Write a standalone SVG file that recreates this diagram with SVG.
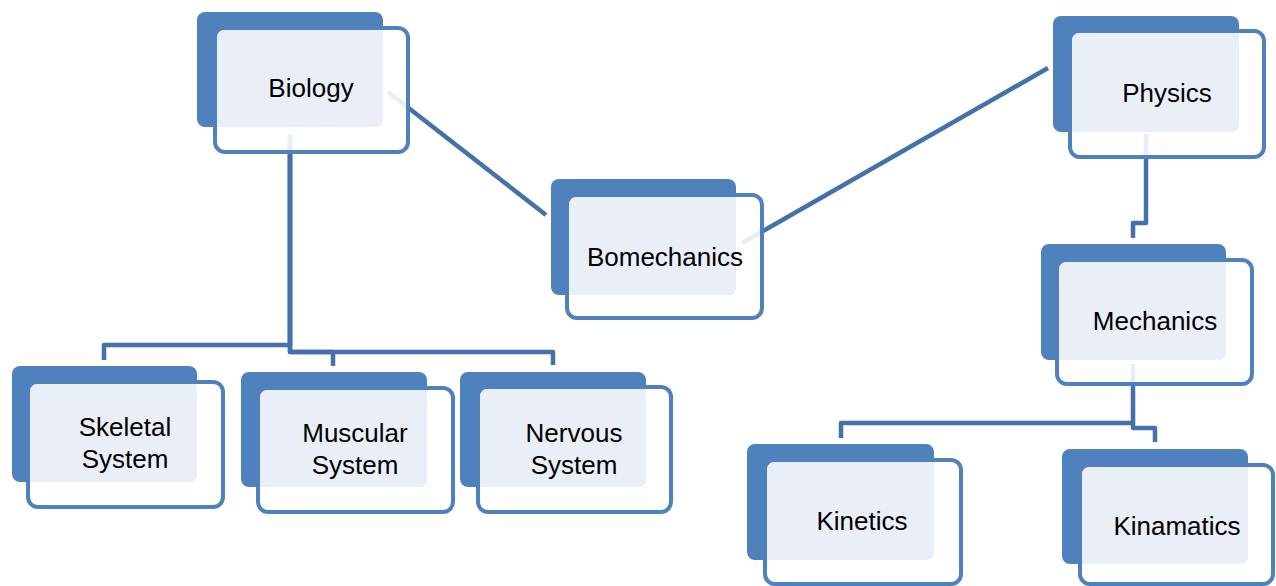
<svg xmlns="http://www.w3.org/2000/svg" width="1276" height="586" viewBox="0 0 1276 586">
<style>
.back{fill:#4F81BD}
.frame{fill:#FFFFFF;fill-opacity:0.88;stroke:#4F81BD;stroke-width:4}
.light{fill:#EAEFF7}
.lbl{font-family:"Liberation Sans",Arial,sans-serif;font-size:26px;fill:#000;text-anchor:middle}
.conn{fill:none;stroke:#4671A8;stroke-width:4.5;stroke-linejoin:round}
</style>
<rect width="1276" height="586" fill="#FFFFFF"/>
<g id="connectors">
<path class="conn" d="M290,135 V345 H104 V360"/>
<path class="conn" d="M290,135 V352 H333 V366"/>
<path class="conn" d="M290,135 V352 H553 V365"/>
<path class="conn" d="M388,92 L546,215"/>
<path class="conn" d="M742,243 L1048,68"/>
<path class="conn" d="M1146,134 V223 H1133 V238"/>
<path class="conn" d="M1133,364 V423 H841 V438"/>
<path class="conn" d="M1133,423 V428 H1155 V442"/>
</g>
<g id="biology">
<rect class="back" x="197" y="12" width="186" height="115" rx="8"/>
<rect class="frame" x="215" y="28" width="193" height="124" rx="10"/>
<rect class="light" x="217" y="30" width="166" height="97" rx="7"/>
<text class="lbl" x="311" y="97">Biology</text>
</g>
<g id="bomechanics">
<rect class="back" x="551" y="179" width="185" height="116" rx="8"/>
<rect class="frame" x="567" y="195" width="195" height="123" rx="10"/>
<rect class="light" x="569" y="197" width="167" height="98" rx="7"/>
<text class="lbl" x="665" y="266">Bomechanics</text>
</g>
<g id="physics">
<rect class="back" x="1053" y="16" width="186" height="116" rx="8"/>
<rect class="frame" x="1070" y="31" width="194" height="126" rx="10"/>
<rect class="light" x="1072" y="33" width="167" height="99" rx="7"/>
<text class="lbl" x="1167" y="102">Physics</text>
</g>
<g id="mechanics">
<rect class="back" x="1041" y="244" width="185" height="116" rx="8"/>
<rect class="frame" x="1057" y="260" width="195" height="124" rx="10"/>
<rect class="light" x="1059" y="262" width="167" height="98" rx="7"/>
<text class="lbl" x="1155" y="330">Mechanics</text>
</g>
<g id="skeletal">
<rect class="back" x="12" y="366" width="185" height="116" rx="8"/>
<rect class="frame" x="28" y="382" width="195" height="125" rx="10"/>
<rect class="light" x="30" y="384" width="167" height="98" rx="7"/>
<text class="lbl" x="125" y="436">Skeletal</text>
<text class="lbl" x="125" y="468">System</text>
</g>
<g id="muscular">
<rect class="back" x="241" y="372" width="186" height="115" rx="8"/>
<rect class="frame" x="258" y="388" width="195" height="124" rx="10"/>
<rect class="light" x="260" y="390" width="167" height="97" rx="7"/>
<text class="lbl" x="355" y="442">Muscular</text>
<text class="lbl" x="355" y="474">System</text>
</g>
<g id="nervous">
<rect class="back" x="460" y="372" width="186" height="115" rx="8"/>
<rect class="frame" x="478" y="387" width="193" height="125" rx="10"/>
<rect class="light" x="480" y="389" width="166" height="98" rx="7"/>
<text class="lbl" x="574" y="442">Nervous</text>
<text class="lbl" x="574" y="474">System</text>
</g>
<g id="kinetics">
<rect class="back" x="747" y="444" width="187" height="116" rx="8"/>
<rect class="frame" x="765" y="460" width="196" height="124" rx="10"/>
<rect class="light" x="767" y="462" width="167" height="98" rx="7"/>
<text class="lbl" x="862" y="530">Kinetics</text>
</g>
<g id="kinamatics">
<rect class="back" x="1062" y="449" width="186" height="115" rx="8"/>
<rect class="frame" x="1080" y="465" width="193" height="119" rx="10"/>
<rect class="light" x="1082" y="467" width="166" height="97" rx="7"/>
<text class="lbl" x="1177" y="535">Kinamatics</text>
</g>
</svg>
